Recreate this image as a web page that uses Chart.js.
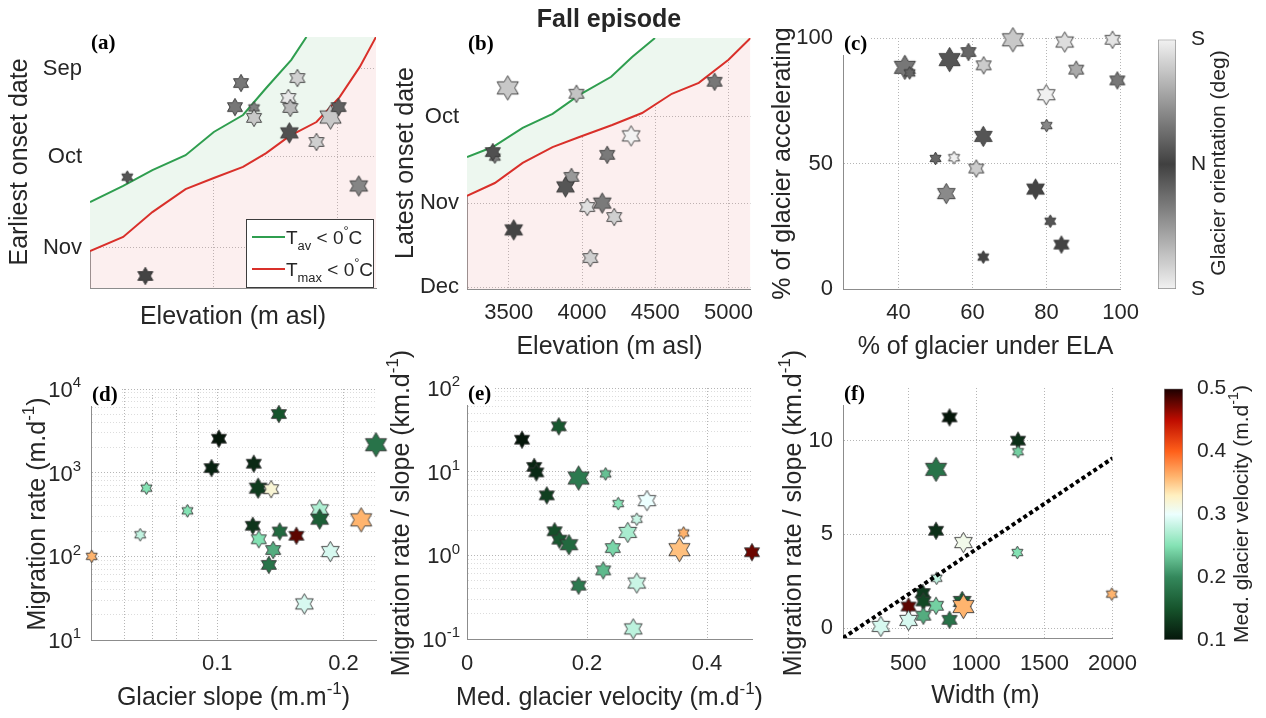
<!DOCTYPE html>
<html><head><meta charset="utf-8">
<script src="https://cdn.jsdelivr.net/npm/chart.js@4/dist/chart.umd.min.js"></script>
<style>
html,body{margin:0;padding:0;background:#fff;overflow:hidden;}
#fig{position:relative;width:1266px;height:718px;overflow:hidden;background:#fff;}
#fig canvas{position:absolute;}
</style></head><body><div id="fig"></div>
<script>
// ================= DATA =================
// date axis (day of year)
const onsetTickDays  = [244, 274, 305, 335];
const onsetTickNames = ['Sep', 'Oct', 'Nov', 'Dec'];

// (a) earliest onset
const aElev   = [3301, 3447, 4220, 4171, 4325, 4325, 4675, 4602, 4618, 4610, 4829, 4943, 5008, 5171];
const aOnset  = [280.9, 314.6, 248.8, 257.0, 257.3, 260.7, 247.1, 253.9, 257.3, 265.8, 268.9, 260.4, 257.0, 283.9];
const aOrient = [21, 4, 56, 56, 65, 138, 146, 170, 121, 16, 145, 138, 32, 70];
const aArea   = [1, 2, 2, 2, 1, 2, 2, 2, 2, 3, 2, 4, 2, 3];
const aTavElev  = [3000, 3268, 3504, 3772, 4000, 4236, 4423, 4626, 4748];
const aTavDay   = [289.4, 283.9, 278.5, 273.4, 265.5, 259.7, 250.5, 240.9, 233.1];
const aTmaxElev = [3000, 3268, 3504, 3772, 4000, 4236, 4423, 4610, 4829, 5016, 5179, 5310];
const aTmaxDay  = [306.1, 301.3, 292.8, 285.0, 281.2, 277.4, 272.7, 266.9, 262.1, 253.6, 243.3, 233.1];
const elevTicksA = [4000, 5000];

// (b) latest onset
const bElev   = [3493, 3962, 3405, 3391, 3928, 3887, 4036, 4138, 4220, 4172, 4335, 3534, 4057, 4905];
const bOnset  = [263.6, 265.7, 288.4, 286.6, 295.5, 299.1, 306.3, 304.9, 309.9, 287.6, 280.8, 314.5, 324.6, 261.4];
const bOrient = [138, 133, 59, 16, 90, 21, 162, 59, 146, 59, 180, 4, 145, 56];
const bArea   = [4, 2, 1, 2, 2, 3, 2, 3, 2, 2, 3, 3, 2, 2];
const bTavElev  = [3215, 3391, 3595, 3799, 3982, 4199, 4342, 4498];
const bTavDay   = [288.4, 284.8, 277.9, 272.9, 266.1, 259.6, 252.5, 245.7];
const bTmaxElev = [3215, 3405, 3595, 3799, 3982, 4206, 4410, 4613, 4797, 5000, 5150];
const bTmaxDay  = [302.3, 297.7, 290.5, 284.8, 281.2, 276.9, 272.6, 265.7, 261.8, 253.5, 245.7];
const elevTicksB = [3500, 4000, 4500, 5000];

// (c) % under ELA vs % accelerating
const cUnderEla = [41.7, 43.0, 53.8, 58.9, 63.0, 70.9, 84.9, 97.8, 88.0, 99.1, 79.9, 80.0, 62.9, 50.0, 55.0, 61.0, 52.9, 77.0, 81.0, 84.0, 62.9];
const cAccel    = [88.3, 86.1, 91.4, 94.4, 89.1, 99.3, 98.4, 99.3, 87.4, 83.1, 77.4, 65.1, 60.8, 52.0, 52.3, 48.0, 38.0, 39.8, 27.0, 17.7, 12.7];
const cOrient   = [56, 38, 21, 38, 142, 138, 159, 166, 107, 56, 178, 73, 21, 38, 178, 142, 75, 4, 21, 4, 4];
const cArea     = [4, 1, 4, 2, 2, 4, 3, 2, 2, 2, 3, 1, 3, 1, 1, 2, 3, 3, 1, 2, 1];
const elaTicks   = [40, 60, 80, 100];
const accelTicks = [0, 50, 100];

// (d) slope vs migration rate
const dSlope = [0.0502, 0.0655, 0.0678, 0.0849, 0.0969, 0.1009, 0.1222, 0.1251, 0.1344, 0.1402, 0.1215, 0.1256, 0.1409, 0.1544, 0.1359, 0.1327, 0.1613, 0.1860, 0.1754, 0.1754, 0.2203, 0.2390];
const dRate  = [100, 181, 653, 350, 1135, 2546, 1279, 653, 635, 5021, 232, 160, 198, 176, 119, 79, 27, 114, 360, 278, 273, 2158];
const dVel   = [0.36, 0.28, 0.25, 0.25, 0.11, 0.10, 0.115, 0.13, 0.32, 0.15, 0.125, 0.25, 0.17, 0.48, 0.22, 0.18, 0.29, 0.29, 0.27, 0.16, 0.36, 0.18];
const dArea  = [1, 1, 1, 1, 2, 2, 2, 3, 2, 2, 2, 2, 2, 2, 2, 2, 3, 3, 3, 3, 4, 4];
const slopeTicks      = [0.06, 0.07, 0.08, 0.09, 0.1, 0.2];
const slopeTickLabels = ['', '', '', '', '0.1', '0.2'];
const rateDecades  = [1, 2, 3, 4];
const ratioDecades = [-1, 0, 1, 2];
const minorMultipliers = [2, 3, 4, 5, 6, 7, 8, 9];

// (e) velocity vs rate/slope
const eVel   = [0.0917, 0.153, 0.112, 0.1156, 0.186, 0.231, 0.133, 0.252, 0.300, 0.283, 0.268, 0.146, 0.154, 0.170, 0.243, 0.361, 0.354, 0.475, 0.227, 0.186, 0.283, 0.277];
const eRatio = [24.1, 34.8, 11.4, 9.8, 8.4, 9.4, 5.2, 4.15, 4.5, 2.7, 1.88, 1.94, 1.54, 1.34, 1.22, 1.85, 1.17, 1.09, 0.66, 0.434, 0.467, 0.132];
const eArea  = [2, 2, 2, 2, 4, 1, 2, 1, 3, 1, 3, 2, 2, 3, 2, 1, 4, 2, 2, 2, 3, 3];
const velTicksE = [0, 0.2, 0.4];

// (f) width vs rate/slope
const fWidth = [803, 1306, 1306, 704, 704, 905, 1301, 708, 606, 611, 896, 502, 704, 905, 611, 803, 502, 299, 1995];
const fRatio = [11.24, 10.0, 9.41, 8.47, 5.19, 4.56, 4.03, 2.66, 1.87, 1.42, 1.42, 1.15, 1.19, 1.15, 0.66, 0.44, 0.41, 0.09, 1.81];
const fVel   = [0.10, 0.12, 0.24, 0.18, 0.12, 0.31, 0.25, 0.28, 0.13, 0.14, 0.16, 0.48, 0.24, 0.36, 0.22, 0.18, 0.29, 0.29, 0.36];
const fArea  = [2, 2, 1, 4, 2, 3, 1, 1, 2, 2, 3, 2, 2, 4, 2, 2, 3, 3, 1];
const fFitWidth = [21, 2000];
const fFitRatio = [-0.53, 9.06];
const widthTicks = [500, 1000, 1500, 2000];
const ratioTicksF = [0, 5, 10];

// colorbars
const orientTicks = [-180, 0, 180];
const orientTickNames = ['S', 'N', 'S'];
const velTicks = [0.1, 0.2, 0.3, 0.4, 0.5];
const legendNames = ['T_{av} < 0^{°}C', 'T_{max} < 0^{°}C'];

// ================= STYLE =================
const FAMILY = '"Liberation Sans", Arial, Helvetica, sans-serif';
const SERIF = '"Liberation Serif", "Times New Roman", serif';
const TXT = '#262626';
const GRID = '#b5b5b5', MINOR = '#dcdcdc', AXIS = '#8c8c8c';
const TICK_FONT = {family: FAMILY, size: 22};
const GREEN = '#2f9e4f', RED = '#d9302a', GREENFILL = '#edf7ef', PINK = 'rgba(240,160,160,0.17)';
const STAR_R = [0, 6.4, 8.7, 10.2, 12.2];
const VEL_STOPS = [[0.10,[5,22,10]],[0.15,[22,84,44]],[0.20,[52,136,92]],[0.25,[132,226,180]],[0.30,[236,255,255]],[0.33,[255,240,192]],[0.36,[255,180,110]],[0.40,[255,96,26]],[0.45,[190,12,0]],[0.50,[26,0,0]]];
Chart.defaults.font.family = FAMILY;
Chart.defaults.color = TXT;

function grayFor(o) {
  const g = Math.round(64 + Math.min(Math.abs(o), 180) / 180 * 178);
  return `rgb(${g},${g},${g})`;
}
function velColor(v) {
  const s = VEL_STOPS;
  if (v <= s[0][0]) return `rgb(${s[0][1].join(',')})`;
  for (let i = 1; i < s.length; i++) {
    if (v <= s[i][0]) {
      const t = (v - s[i-1][0]) / (s[i][0] - s[i-1][0]);
      const c = s[i-1][1].map((a, k) => Math.round(a + (s[i][1][k] - a) * t));
      return `rgb(${c.join(',')})`;
    }
  }
  return `rgb(${s[s.length-1][1].join(',')})`;
}
const starCache = {};
function starImage(fill, R) {
  const key = fill + '|' + R;
  if (starCache[key]) return starCache[key];
  const s = Math.ceil(2 * R + 4);
  const c = document.createElement('canvas');
  c.width = s; c.height = s;
  const g = c.getContext('2d');
  const cx = s / 2, cy = s / 2, r = R / Math.sqrt(3);
  g.beginPath();
  for (let i = 0; i < 12; i++) {
    const ang = -Math.PI / 2 + i * Math.PI / 6;
    const rad = i % 2 === 0 ? R : r;
    const x = cx + rad * Math.cos(ang), y = cy + rad * Math.sin(ang);
    if (i) g.lineTo(x, y); else g.moveTo(x, y);
  }
  g.closePath();
  g.fillStyle = fill; g.fill();
  g.lineWidth = 0.9; g.strokeStyle = '#363636'; g.stroke();
  starCache[key] = c;
  return c;
}
function powExp(v) {
  const e = Math.log10(v), r = Math.round(e);
  return Math.abs(e - r) > 1e-6 ? null : r;
}
function logTickValues(decades) {
  const out = [];
  decades.forEach((e, i) => {
    out.push({value: Math.pow(10, e)});
    if (i < decades.length - 1) minorMultipliers.forEach(m => out.push({value: m * Math.pow(10, e), minor: true}));
  });
  return out;
}

// ----- rich text (sub/superscripts) -----
function parseRich(s) {
  const out = []; let i = 0, buf = '';
  while (i < s.length) {
    const ch = s[i];
    if ((ch === '^' || ch === '_') && s[i + 1] === '{') {
      if (buf) { out.push({t: buf, k: 0}); buf = ''; }
      const j = s.indexOf('}', i);
      out.push({t: s.slice(i + 2, j), k: ch === '^' ? 1 : -1});
      i = j + 1;
    } else { buf += ch; i++; }
  }
  if (buf) out.push({t: buf, k: 0});
  return out;
}
function drawRich(ctx, text, x, y, size, weight, rot, family, align, color) {
  const segs = parseRich(text);
  const small = size * 0.68;
  let total = 0;
  for (const s of segs) { ctx.font = `${weight} ${s.k ? small : size}px ${family}`; s.w = ctx.measureText(s.t).width; total += s.w; }
  ctx.save();
  ctx.translate(x, y); ctx.rotate(rot);
  ctx.fillStyle = color || TXT; ctx.textBaseline = 'alphabetic'; ctx.textAlign = 'left';
  let cx = align === 'left' ? 0 : align === 'right' ? -total : -total / 2;
  const base = size * 0.36;
  for (const s of segs) {
    ctx.font = `${weight} ${s.k ? small : size}px ${family}`;
    const dy = s.k > 0 ? -size * 0.44 : s.k < 0 ? size * 0.3 : 0;
    ctx.fillText(s.t, cx, base + dy);
    cx += s.w;
  }
  ctx.restore();
}

function overlay(origin, items, tag, legend, logPad) {
  return {
    id: 'overlay',
    afterDraw(chart) {
      const ctx = chart.ctx, ca = chart.chartArea;
      if (logPad) {
        const sc = chart.scales.y;
        sc.ticks.forEach(t => {
          const e = powExp(t.value);
          if (e === null) return;
          drawRich(ctx, '10^{' + e + '}', ca.left - logPad, sc.getPixelForValue(t.value), 22, 'normal', 0, FAMILY, 'right');
        });
      }
      if (legend) {
        const bx = ca.right - 130, by = ca.bottom - 69, bw = 128, bh = 69;
        ctx.save();
        ctx.fillStyle = '#fff'; ctx.fillRect(bx, by, bw, bh);
        ctx.strokeStyle = '#3c3c3c'; ctx.lineWidth = 1; ctx.strokeRect(bx + 0.5, by + 0.5, bw - 1, bh - 1);
        [GREEN, RED].forEach((col, i) => {
          const yy = by + 18 + i * 32;
          ctx.strokeStyle = col; ctx.lineWidth = 2;
          ctx.beginPath(); ctx.moveTo(bx + 6, yy); ctx.lineTo(bx + 39, yy); ctx.stroke();
          drawRich(ctx, legendNames[i], bx + 40, yy, 19, 'normal', 0, FAMILY, 'left');
        });
        ctx.restore();
      }
      if (tag) {
        ctx.save();
        ctx.font = `bold 21px ${SERIF}`;
        const w = ctx.measureText(tag).width;
        ctx.fillStyle = '#fff'; ctx.fillRect(ca.left - 1, ca.top - 11, w + 5, 28);
        ctx.fillStyle = '#000'; ctx.textBaseline = 'alphabetic'; ctx.textAlign = 'left';
        ctx.fillText(tag, ca.left + 1, ca.top + 4 + 21 * 0.36);
        ctx.restore();
      }
      items.forEach(it => drawRich(ctx, it.text, it.x - origin[0], it.y - origin[1], it.size || 25, it.weight || 'normal', it.rot || 0, FAMILY, 'center'));
    }
  };
}

function place(rect) {
  const cv = document.createElement('canvas');
  const w = rect.right - rect.left, h = rect.bottom - rect.top;
  cv.width = w; cv.height = h;
  cv.style.left = rect.left + 'px'; cv.style.top = rect.top + 'px';
  cv.style.width = w + 'px'; cv.style.height = h + 'px';
  document.getElementById('fig').appendChild(cv);
  return cv;
}

function axis(o) {
  const objs = o.tickObjs || o.ticks.map(v => ({value: v}));
  return {
    type: o.type || 'linear', min: o.min, max: o.max, reverse: !!o.reverse,
    afterBuildTicks: s => { s.ticks = objs.filter(t => t.value >= o.min - 1e-9 && t.value <= o.max + 1e-9).map(t => Object.assign({}, t)); },
    ticks: {display: o.showLabels !== false, autoSkip: false, maxRotation: 0, minRotation: 0, padding: o.pad || 8,
            font: TICK_FONT, color: TXT, callback: v => o.label ? o.label(v) : String(v)},
    grid: {drawTicks: false, color: c => (c.tick && c.tick.minor) ? MINOR : GRID, lineWidth: 1, borderDash: [1, 2]},
    border: {display: true, color: AXIS, width: 1, dash: [1, 2]}
  };
}

function makeChart(rect, plot, cfg) {
  const cv = place(rect);
  const W = plot.L - rect.left, H = rect.bottom - plot.B;
  cfg.x.afterFit = s => { s.height = H; };
  cfg.y.afterFit = s => { s.width = W; };
  return new Chart(cv, {
    type: 'scatter',
    data: {datasets: cfg.datasets},
    options: {
      responsive: false, animation: false, events: [],
      layout: {autoPadding: false, padding: {top: plot.T - rect.top, right: rect.right - plot.R, left: 0, bottom: 0}},
      scales: {x: cfg.x, y: cfg.y},
      plugins: {legend: {display: false}, tooltip: {enabled: false}}
    },
    plugins: [overlay([rect.left, rect.top], cfg.texts, cfg.tag, cfg.legend, cfg.logPad)]
  });
}

function starSet(xs, ys, colorFn, area) {
  return {
    type: 'scatter',
    data: xs.map((x, i) => ({x, y: ys[i]})),
    pointStyle: c => starImage(colorFn(c.dataIndex), STAR_R[area[c.dataIndex]]),
    pointRadius: c => STAR_R[area[c.dataIndex]],
    clip: false
  };
}
function xy(xs, ys) { return xs.map((x, i) => ({x, y: ys[i]})); }
function onsetDatasets(elev, onset, orient, area, tavE, tavD, tmaxE, tmaxD) {
  return [
    starSet(elev, onset, i => grayFor(orient[i]), area),
    {type: 'line', data: xy(tavE, tavD), borderColor: GREEN, borderWidth: 2, pointRadius: 0, fill: 'end', backgroundColor: '#ffffff'},
    {type: 'line', data: xy(tmaxE, tmaxD), borderColor: RED, borderWidth: 2, pointRadius: 0, fill: 'start', backgroundColor: PINK},
    {type: 'line', data: xy(tmaxE, tmaxD), borderColor: 'rgba(0,0,0,0)', borderWidth: 0, pointRadius: 0, fill: 'end', backgroundColor: GREENFILL}
  ];
}
const dayName = v => onsetTickNames[onsetTickDays.indexOf(v)] || '';
const R90 = -Math.PI / 2;

// ---- (a) ----
makeChart({left: 0, top: 0, right: 400, bottom: 335}, {L: 90, T: 37, R: 376, B: 288}, {
  x: axis({min: 3000, max: 5310, ticks: elevTicksA, showLabels: false}),
  y: axis({min: 233.1, max: 318.7, ticks: onsetTickDays, reverse: true, label: dayName, pad: 8}),
  datasets: onsetDatasets(aElev, aOnset, aOrient, aArea, aTavElev, aTavDay, aTmaxElev, aTmaxDay),
  texts: [{text: 'Earliest onset date', x: 18, y: 162, rot: R90}, {text: 'Elevation (m asl)', x: 233, y: 315}],
  tag: '(a)', legend: true
});
// ---- (b) ----
makeChart({left: 385, top: 0, right: 765, bottom: 362}, {L: 467, T: 38, R: 752, B: 289}, {
  x: axis({min: 3215, max: 5150, ticks: elevTicksB, pad: 11}),
  y: axis({min: 245.7, max: 335.7, ticks: onsetTickDays, reverse: true, label: dayName, pad: 8}),
  datasets: onsetDatasets(bElev, bOnset, bOrient, bArea, bTavElev, bTavDay, bTmaxElev, bTmaxDay),
  texts: [{text: 'Latest onset date', x: 404, y: 163, rot: R90}, {text: 'Elevation (m asl)', x: 609.5, y: 345},
          {text: 'Fall episode', x: 609, y: 18, weight: 'bold'}],
  tag: '(b)'
});
// ---- (c) ----
makeChart({left: 762, top: 0, right: 1150, bottom: 362}, {L: 843, T: 38, R: 1128, B: 289}, {
  x: axis({min: 25, max: 100, ticks: elaTicks, pad: 11}),
  y: axis({min: 0, max: 100, ticks: accelTicks, pad: 10}),
  datasets: [starSet(cUnderEla, cAccel, i => grayFor(cOrient[i]), cArea)],
  texts: [{text: '% of glacier accelerating', x: 781, y: 163.5, rot: R90}, {text: '% of glacier under ELA', x: 985.5, y: 345}],
  tag: '(c)'
});
// ---- (d) ----
makeChart({left: 0, top: 325, right: 400, bottom: 718}, {L: 91, T: 389, R: 376, B: 640}, {
  x: axis({type: 'logarithmic', min: 0.05, max: 0.239, ticks: slopeTicks, pad: 11,
           label: v => slopeTickLabels[slopeTicks.indexOf(v)] || ''}),
  y: axis({type: 'logarithmic', min: 10, max: 10000, tickObjs: logTickValues(rateDecades), showLabels: false}),
  datasets: [starSet(dSlope, dRate, i => velColor(dVel[i]), dArea)],
  texts: [{text: 'Migration rate (m.d^{-1})', x: 36, y: 514, rot: R90}, {text: 'Glacier slope (m.m^{-1})', x: 233.5, y: 696}],
  tag: '(d)', logPad: 10
});
// ---- (e) ----
makeChart({left: 380, top: 325, right: 770, bottom: 718}, {L: 467, T: 388, R: 752, B: 639}, {
  x: axis({min: 0, max: 0.475, ticks: velTicksE, pad: 12, label: v => v === 0 ? '0' : v.toFixed(1)}),
  y: axis({type: 'logarithmic', min: 0.1, max: 100, tickObjs: logTickValues(ratioDecades), showLabels: false}),
  datasets: [starSet(eVel, eRatio, i => velColor(eVel[i]), eArea)],
  texts: [{text: 'Migration rate / slope (km.d^{-1})', x: 400, y: 513, rot: R90}, {text: 'Med. glacier velocity (m.d^{-1})', x: 609.5, y: 696}],
  tag: '(e)', logPad: 7
});
// ---- (f) ----
makeChart({left: 770, top: 325, right: 1150, bottom: 718}, {L: 843, T: 388, R: 1128, B: 638}, {
  x: axis({min: 21, max: 2000, ticks: widthTicks, pad: 13}),
  y: axis({min: -0.53, max: 12.81, ticks: ratioTicksF, pad: 10}),
  datasets: [
    {type: 'line', data: xy(fFitWidth, fFitRatio), borderColor: '#000', borderWidth: 4, borderDash: [4, 3], pointRadius: 0, fill: false},
    starSet(fWidth, fRatio, i => velColor(fVel[i]), fArea)
  ],
  texts: [{text: 'Migration rate / slope (km.d^{-1})', x: 792, y: 513, rot: R90}, {text: 'Width (m)', x: 985.5, y: 694}],
  tag: '(f)'
});

// ---- colorbars ----
function colorbar(rect, bar, min, max, ticks, label, stopsFn, title, titleX, pad) {
  const cv = place(rect);
  const W = rect.right - bar.R;
  new Chart(cv, {
    type: 'bar',
    data: {labels: [''], datasets: [{
      data: [[min, max]],
      backgroundColor: c => {
        const ca = c.chart.chartArea;
        if (!ca) return '#888';
        const g = c.chart.ctx.createLinearGradient(0, ca.bottom, 0, ca.top);
        for (let k = 0; k <= 40; k++) { const t = k / 40; g.addColorStop(t, stopsFn(min + (max - min) * t)); }
        return g;
      },
      borderColor: '#8c8c8c', borderWidth: 1, borderSkipped: false, barPercentage: 1, categoryPercentage: 1
    }]},
    options: {
      responsive: false, animation: false, events: [],
      layout: {autoPadding: false, padding: {left: bar.L - rect.left, top: bar.T - rect.top, bottom: rect.bottom - bar.B, right: 0}},
      scales: {
        x: {display: false},
        y: {position: 'right', min, max,
            afterFit: s => { s.width = W; },
            afterBuildTicks: s => { s.ticks = ticks.map(v => ({value: v})); },
            grid: {display: false}, border: {display: false},
            ticks: {autoSkip: false, padding: pad, font: {family: FAMILY, size: 21}, color: TXT, callback: label}}
      },
      plugins: {legend: {display: false}, tooltip: {enabled: false}}
    },
    plugins: [overlay([rect.left, rect.top], [{text: title, x: titleX, y: (bar.T + bar.B) / 2, rot: R90, size: 21}], null, false)]
  });
}
colorbar({left: 1152, top: 20, right: 1266, bottom: 310}, {L: 1158, T: 37, R: 1176, B: 289}, -180, 180, orientTicks,
  v => orientTickNames[orientTicks.indexOf(v)] || '', grayFor, 'Glacier orientation (deg)', 1217, 7);
colorbar({left: 1152, top: 370, right: 1266, bottom: 660}, {L: 1164, T: 388, R: 1183, B: 640}, 0.1, 0.5, velTicks,
  v => v.toFixed(1), velColor, 'Med. glacier velocity (m.d^{-1})', 1240, 6);
</script></body></html>
